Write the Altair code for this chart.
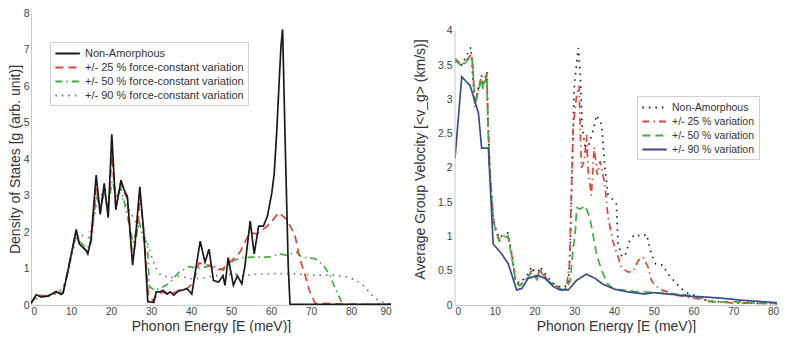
import altair as alt
import pandas as pd

# ---------------- Left panel: Density of States ----------------
L_names = ["Non-Amorphous",
           "+/- 25 % force-constant variation",
           "+/- 50 % force-constant variation",
           "+/- 90 % force-constant variation"]

L_non_E = [0, 1.3, 2.5, 4.2, 6.3, 7.5, 8.0, 9.2, 11.3, 12.1, 13.8, 14.2, 15.0, 16.3, 17.3, 18.3, 19.3,
           20.2, 21.2, 22.5, 23.3, 24.1, 25.4, 26.1, 27.2, 28.2, 29.2, 30.7, 31.3, 32.3, 33.0, 34.0,
           34.8, 35.7, 37.0, 37.7, 39.0, 40.2, 42.3, 43.5, 44.5, 45.6, 46.9, 48.0, 48.5, 49.3, 50.6,
           51.6, 52.7, 53.5, 54.8, 55.8, 56.9, 58.1, 59.1, 60.2, 60.8, 61.4, 62.0, 62.5, 62.9, 63.5,
           64.3, 64.75, 70, 80, 90]
L_non_v = [0.05, 0.28, 0.22, 0.24, 0.37, 0.29, 0.32, 0.91, 2.07, 1.67, 1.49, 1.40, 1.80, 3.56, 2.48, 3.33,
           2.39, 4.68, 2.61, 3.42, 3.15, 2.97, 1.09, 1.80, 3.24, 1.98, 0.09, 0.07, 0.36, 0.36, 0.40, 0.30,
           0.36, 0.27, 0.40, 0.40, 0.45, 0.30, 1.75, 1.17, 1.53, 0.67, 0.63, 0.80, 0.54, 1.30, 0.54,
           0.80, 0.58, 1.08, 2.30, 1.40, 2.16, 2.16, 2.43, 3.07, 3.60, 4.68, 6.03, 7.10, 7.55, 4.68,
           1.09, 0.02, 0.02, 0.02, 0.02]

L_25_E = [0, 1.3, 4.2, 6.3, 8, 9.2, 11.3, 12.1, 13.8, 14.2, 15, 16.3, 17.3, 18.3, 19.3, 20.2, 21.2, 22.5,
          23.3, 24.1, 25.4, 26.3, 27.3, 28.3, 29.3, 30.5, 31.5, 33, 34.5, 36, 37.5, 39, 40.5, 42, 44.8,
          46.5, 48, 49.7, 52.2, 54.7, 56.5, 58, 59.5, 61.9, 63.9, 64.8, 66, 67.2, 68.5, 69.7, 71, 80, 90]
L_25_v = [0.05, 0.27, 0.24, 0.35, 0.33, 0.95, 2.0, 1.65, 1.5, 1.45, 1.75, 3.2, 2.55, 3.2, 2.5, 4.1, 2.75,
          3.35, 3.1, 2.9, 1.25, 1.8, 2.95, 1.9, 0.3, 0.12, 0.3, 0.35, 0.3, 0.35, 0.4, 0.45, 0.6, 1.15,
          1.08, 0.95, 1.0, 1.17, 1.44, 1.98, 1.95, 2.07, 2.2, 2.53, 2.35, 2.16, 1.9, 1.27, 0.82, 0.37,
          0.05, 0.02, 0.02]

L_50_E = [0, 1.5, 4, 6.5, 8, 9.5, 11, 12.5, 14, 15, 16.3, 17.3, 18.3, 19.3, 20.3, 21.3, 22.5, 24, 25.5,
          27, 28.2, 29.1, 29.6, 31, 33, 34.5, 37, 39.5, 42, 45.3, 48, 50.7, 53, 55.6, 59.4, 62.3, 63.9,
          66.4, 67.7, 71, 73.1, 74.7, 76, 77.6, 78.5, 90]
L_50_v = [0.05, 0.27, 0.25, 0.33, 0.35, 1.1, 1.85, 1.7, 1.55, 1.7, 3.0, 2.7, 3.05, 2.7, 3.4, 3.0, 3.2,
          2.5, 1.7, 2.3, 1.8, 1.7, 0.5, 0.4, 0.5, 0.59, 0.9, 1.05, 1.0, 1.09, 0.95, 1.22, 1.3, 1.31,
          1.31, 1.4, 1.36, 1.45, 1.31, 1.27, 1.09, 0.82, 0.46, 0.1, 0.02, 0.02]

L_90_E = [0, 2, 5, 7, 8.5, 9.5, 10.5, 11.5, 13, 14.5, 15.5, 16.5, 18, 20, 22, 24, 26.2, 28.7, 29.5, 30.3,
          31.2, 32.4, 34.9, 37.4, 39.5, 42.8, 45.7, 48.5, 51, 53, 55.6, 60.6, 64.8, 70.6, 75.5, 78.9,
          81.3, 83.4, 85.1, 86.7, 88.8, 90]
L_90_v = [0.05, 0.22, 0.25, 0.35, 0.6, 1.0, 1.5, 1.95, 1.9, 1.85, 2.3, 2.8, 3.1, 3.3, 3.1, 2.7, 2.26,
          1.8, 1.58, 1.27, 1.02, 0.82, 0.75, 0.8, 0.72, 0.73, 0.8, 0.82, 0.85, 0.8, 0.84, 0.86, 0.86,
          0.82, 0.82, 0.77, 0.68, 0.5, 0.28, 0.14, 0.03, 0.02]

L_colors = ["#1a1a1a", "#e0453c", "#3fae3f", "#6673b3"]
L_dashes = [[1, 0], [8, 5], [7, 4, 1.5, 4], [1.5, 5]]

# ---------------- Right panel: Average Group Velocity ----------------
R_names = ["Non-Amorphous",
           "+/- 25 % variation",
           "+/- 50 % variation",
           "+/- 90 % variation"]

R_non_E = [0, 1.7, 4.0, 4.5, 5.0, 5.8, 6.7, 7.0, 8.0, 8.3, 8.8, 9.6, 10.0, 11.1, 12.1, 13.3, 14.3,
           15.3, 16.3, 18.0, 19.3, 20.6, 21.4, 23.1, 25, 27, 28.5, 29.0, 29.5, 30.0, 31.0, 31.5, 32.0,
           33.0, 34.0, 35.0, 35.6, 36.9, 37.7, 38.5, 39.5, 40.6, 41.0, 42.0, 43.0, 44.0, 45.2, 47.0,
           48.2, 49.4, 50.5, 52.3, 53.6, 56.1, 57.8, 60.3, 63.6, 70, 82]
R_non_v = [3.55, 3.5, 3.76, 3.3, 2.95, 3.15, 3.35, 3.2, 3.4, 2.7, 1.95, 1.3, 1.15, 0.98, 1.02, 1.05,
           0.75, 0.35, 0.32, 0.42, 0.56, 0.42, 0.56, 0.42, 0.3, 0.25, 0.3, 0.9, 2.0, 3.2, 3.75, 3.4,
           2.6, 2.2, 2.4, 2.6, 2.77, 2.63, 2.0, 1.61, 1.55, 1.47, 0.9, 0.7, 0.75, 0.95, 1.03, 1.0,
           1.03, 0.74, 0.6, 0.58, 0.45, 0.29, 0.19, 0.14, 0.06, 0.03, 0.02]

R_25_E = [0, 1.7, 4.2, 4.5, 5.0, 5.8, 6.7, 7.0, 8.0, 8.3, 8.8, 9.6, 10.0, 11.1, 12.1, 13.3, 14.3, 15.3,
          16.3, 18.0, 19.3, 20.6, 21.4, 23.1, 25, 27, 28, 28.8, 29.3, 29.7, 30.6, 31.2, 31.8, 32.5,
          33.1, 33.5, 34.3, 35.0, 35.8, 36.5, 37.7, 38.5, 39.8, 41.9, 43.5, 44.8, 46.1, 47.3, 48.6,
          49.4, 50.3, 51.9, 56, 60, 65, 70, 82]
R_25_v = [3.6, 3.5, 3.66, 3.47, 2.89, 3.13, 3.35, 3.18, 3.38, 2.65, 1.93, 1.3, 1.11, 0.96, 1.01, 1.03,
          0.72, 0.33, 0.29, 0.38, 0.5, 0.38, 0.53, 0.38, 0.3, 0.22, 0.25, 0.6, 1.71, 2.58, 3.06, 3.2,
          2.0, 2.1, 2.48, 1.95, 1.6, 2.3, 1.9, 2.1, 1.76, 1.28, 0.91, 0.55, 0.48, 0.49, 0.65, 0.7, 0.55,
          0.36, 0.29, 0.22, 0.14, 0.1, 0.05, 0.03, 0.02]

R_50_E = [0, 1.7, 4.2, 4.5, 5.0, 5.8, 6.7, 7.0, 8.0, 8.3, 8.8, 9.6, 10.0, 11.1, 12.1, 13.3, 14.3, 15.3,
          16.3, 18.0, 19.3, 20.6, 21.4, 23.1, 25, 27, 28, 29, 29.5, 30.3, 30.6, 31.5, 32.7, 33.9, 34.8,
          35.6, 36.9, 38.5, 40, 42, 45, 48, 50, 53, 56, 59, 62, 64, 67, 70, 75, 82]
R_50_v = [3.58, 3.48, 3.64, 3.45, 2.92, 3.1, 3.3, 3.15, 3.35, 2.6, 1.9, 1.25, 1.15, 0.93, 0.98, 1.0,
          0.7, 0.32, 0.28, 0.37, 0.48, 0.37, 0.5, 0.37, 0.28, 0.22, 0.25, 0.35, 0.7, 1.1, 1.42, 1.4,
          1.45, 1.28, 1.0, 0.74, 0.5, 0.3, 0.23, 0.22, 0.2, 0.19, 0.18, 0.17, 0.16, 0.14, 0.1, 0.05,
          0.04, 0.05, 0.03, 0.02]

R_90_E = [0, 1.7, 3.8, 5.9, 6.7, 8.4, 9.6, 11.7, 13.4, 15.5, 16.8, 18.4, 20.9, 22.6, 24.7, 26.4, 28.5,
          30.6, 33.0, 35.2, 37.3, 40.2, 43.6, 47.7, 50.0, 55.3, 58.6, 62.0, 67.0, 72.0, 77.0, 82.0]
R_90_v = [2.14, 3.33, 3.2, 2.8, 2.29, 2.29, 0.89, 0.75, 0.6, 0.22, 0.24, 0.39, 0.43, 0.39, 0.27, 0.22,
          0.22, 0.36, 0.45, 0.39, 0.3, 0.23, 0.19, 0.16, 0.18, 0.15, 0.13, 0.12, 0.1, 0.07, 0.05, 0.03]

R_colors = ["#1a1a1a", "#e0453c", "#3fae3f", "#3a4c8c"]
R_dashes = [[1.5, 5], [7, 4, 1.5, 4], [8, 5], [1, 0]]
R_ticks = [0, 0.5, 1, 1.5, 2, 2.5, 3, 3.5, 4]


def frame(series_list):
    rows = []
    for name, es, vs in series_list:
        for e, v in zip(es, vs):
            rows.append({"E": e, "v": v, "series": name})
    return pd.DataFrame(rows)


# draw order: black on top on the left
dfL = frame([(L_names[3], L_90_E, L_90_v), (L_names[2], L_50_E, L_50_v),
             (L_names[1], L_25_E, L_25_v), (L_names[0], L_non_E, L_non_v)])
dfR = frame([(R_names[0], R_non_E, R_non_v), (R_names[1], R_25_E, R_25_v),
             (R_names[2], R_50_E, R_50_v), (R_names[3], R_90_E, R_90_v)])

FONT = "Liberation Sans"
AXIS_COL = "#c8c8c8"


def legend(x, y, fs):
    return alt.Legend(title=None, orient="none", legendX=x, legendY=y,
                      symbolType="M-1,0H3", symbolSize=150, symbolStrokeWidth=1.8,
                      labelFont=FONT, labelFontSize=fs, labelColor="#333",
                      fillColor="white", strokeColor="#cfcfcf", padding=4,
                      rowPadding=1, labelOffset=16)


x_axis_common = dict(title="Phonon Energy [E (meV)]", labelPadding=1, titlePadding=3,
                     labelFontSize=10)

left = alt.Chart(dfL).mark_line(strokeWidth=1.7, clip=True).encode(
    x=alt.X("E:Q", scale=alt.Scale(domain=[0, 90], nice=False),
            axis=alt.Axis(values=list(range(0, 91, 10)), **x_axis_common)),
    y=alt.Y("v:Q", scale=alt.Scale(domain=[0, 8], nice=False),
            axis=alt.Axis(values=list(range(0, 9)), title="Density of States [g (arb. unit)]",
                          titlePadding=1, labelPadding=2)),
    color=alt.Color("series:N", scale=alt.Scale(domain=L_names, range=L_colors),
                    legend=legend(19, 29, 11)),
    strokeDash=alt.StrokeDash("series:N", scale=alt.Scale(domain=L_names, range=L_dashes),
                              legend=legend(19, 29, 11)),
).properties(width=360, height=292)

R_xaxis = alt.Axis(values=list(range(0, 81, 10)), **x_axis_common)
R_yaxis = alt.Axis(values=R_ticks, tickCount=9, labelExpr="format(datum.value, '~g')",
                   domain=False, labelOverlap=False, labelSeparation=0,
                   title="Average Group Velocity [<v_g> (km/s)]", titlePadding=10, labelPadding=3)

right_lines = alt.Chart(dfR).mark_line(strokeWidth=1.7, clip=True).encode(
    x=alt.X("E:Q", scale=alt.Scale(domain=[0, 81], nice=False), axis=R_xaxis),
    y=alt.Y("v:Q", scale=alt.Scale(domain=[0, 4.26], nice=False), axis=R_yaxis),
    color=alt.Color("series:N", scale=alt.Scale(domain=R_names, range=R_colors),
                    legend=legend(182, 83, 10.5)),
    strokeDash=alt.StrokeDash("series:N", scale=alt.Scale(domain=R_names, range=R_dashes),
                              legend=legend(182, 83, 10.5)),
)

# y-axis line of the right panel, only from 0 to 4
right_axisline = alt.Chart(pd.DataFrame({"v": [R_ticks[0]], "v2": [R_ticks[-1]]})).mark_rule(
    color=AXIS_COL, strokeWidth=1
).encode(x=alt.X(datum=0, type="quantitative"), y=alt.Y("v:Q"), y2="v2:Q")

right = alt.layer(right_lines, right_axisline).properties(width=322, height=292)

chart = alt.hconcat(left, right, spacing=22).resolve_scale(
    color="independent", strokeDash="independent"
).resolve_legend(color="independent", strokeDash="independent").properties(
    padding=0
).configure_view(stroke=None).configure_axis(
    grid=False, ticks=False, domainColor=AXIS_COL, domainWidth=1,
    labelFont=FONT, labelFontSize=10.5, labelColor="#444", labelPadding=1,
    titleFont=FONT, titleFontSize=14, titleFontWeight="normal", titleColor="#333", titlePadding=0,
)

chart.save("out.html", embed_options={"renderer": "svg", "actions": False})
